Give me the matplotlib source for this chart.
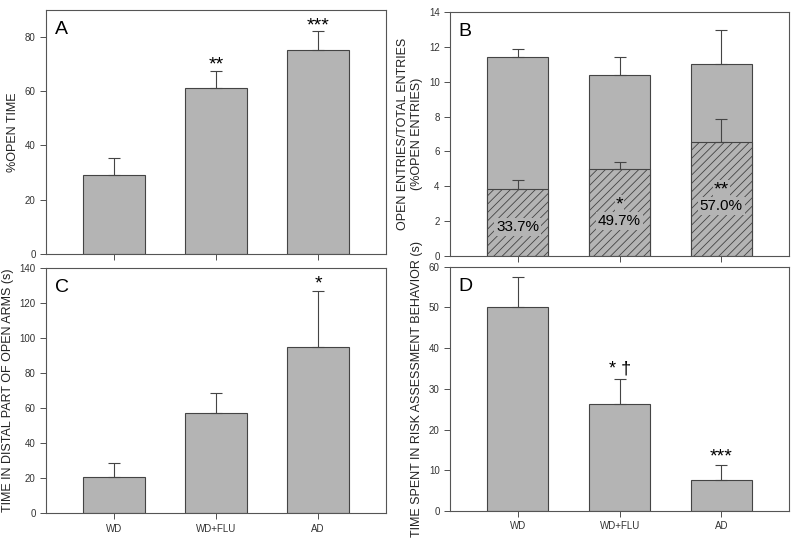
import matplotlib
matplotlib.use('Agg')
import matplotlib.pyplot as plt

plt.rcParams['font.family'] = ['Liberation Sans', 'DejaVu Sans']
plt.rcParams['hatch.color'] = '#444444'
plt.rcParams['hatch.linewidth'] = 0.6

# dados
grupos = ['WD', 'WD+FLU', 'AD']

tempo_aberto = [29, 61, 75]
tempo_aberto_err = [6.5, 6.5, 7]

entradas_total = [11.4, 10.4, 11.0]
entradas_total_err = [0.45, 1.0, 1.95]
entradas_abertas = [3.85, 5.0, 6.55]
entradas_abertas_err = [0.5, 0.4, 1.3]
pct_labels = ['33.7%', '49.7%', '57.0%']
pct_stars = ['', '*', '**']

tempo_distal = [20.5, 57, 95]
tempo_distal_err = [8, 11.5, 32]

tempo_risco = [50, 26.2, 7.6]
tempo_risco_err = [7.5, 6.3, 3.7]

cor = '#b4b4b4'
borda = '#444444'
x = range(len(grupos))

fig = plt.figure(figsize=(8, 5.39), dpi=100)
axA = fig.add_axes([0.0575, 0.529, 0.425, 0.453])
axB = fig.add_axes([0.5625, 0.525, 0.424, 0.453])
axC = fig.add_axes([0.0575, 0.048, 0.425, 0.455])
axD = fig.add_axes([0.5625, 0.052, 0.424, 0.453])


def barras(ax, vals, errs, **kw):
    ax.bar(x, vals, width=0.6, color=cor, edgecolor=borda, linewidth=0.8, **kw)
    ax.errorbar(x, vals, yerr=[[0] * len(vals), errs], fmt='none',
                ecolor=borda, elinewidth=0.8, capsize=4, capthick=0.8)


def estilo(ax, letra, ymax, passo, ylabel, rotulos):
    ax.set_xlim(-0.667, 2.667)
    ax.set_ylim(0, ymax)
    ax.set_yticks(range(0, ymax + 1, passo))
    ax.set_xticks(list(x))
    if rotulos:
        ax.set_xticklabels(grupos)
    else:
        ax.set_xticklabels([])
    ax.tick_params(labelsize=7, length=4, width=0.6, colors='#333333', direction='out')
    for s in ax.spines.values():
        s.set_color('#555555')
        s.set_linewidth(0.8)
    ax.set_ylabel(ylabel, fontsize=9, color='#222222')
    ax.text(0.025, 0.955, letra, transform=ax.transAxes, fontsize=14, va='top', ha='left')


# A
barras(axA, tempo_aberto, tempo_aberto_err)
estilo(axA, 'A', 90, 20, '%OPEN TIME', False)
axA.set_yticks([0, 20, 40, 60, 80])
axA.text(1, 69.5, '**', ha='center', va='center', fontsize=14)
axA.text(2, 84, '***', ha='center', va='center', fontsize=14)

# B
barras(axB, entradas_total, entradas_total_err)
axB.bar(x, entradas_abertas, width=0.6, color=cor, edgecolor=borda,
        linewidth=0.8, hatch='////')
axB.errorbar(x, entradas_abertas, yerr=[[0, 0, 0], entradas_abertas_err], fmt='none',
             ecolor=borda, elinewidth=0.8, capsize=4, capthick=0.8)
estilo(axB, 'B', 14, 2, 'OPEN ENTRIES/TOTAL ENTRIES\n(%OPEN ENTRIES)', False)
pos_y = [1.65, 2.0, 2.85]
for i, t in enumerate(pct_labels):
    axB.text(i, pos_y[i], t, ha='center', va='center', fontsize=11,
             bbox=dict(facecolor=cor, edgecolor='none', pad=1.5))
    if pct_stars[i]:
        axB.text(i, pos_y[i] + 0.95, pct_stars[i], ha='center', va='center', fontsize=14,
                 bbox=dict(facecolor=cor, edgecolor='none', pad=0.5))

# C
barras(axC, tempo_distal, tempo_distal_err)
estilo(axC, 'C', 140, 20, 'TIME IN DISTAL PART OF OPEN ARMS (s)', True)
axC.text(2, 131, '*', ha='center', va='center', fontsize=14)

# D
barras(axD, tempo_risco, tempo_risco_err)
estilo(axD, 'D', 60, 10, 'TIME SPENT IN RISK ASSESSMENT BEHAVIOR (s)', True)
axD.text(1, 35, '* \u2020', ha='center', va='center', fontsize=13)
axD.text(2, 13.2, '***', ha='center', va='center', fontsize=14)

fig.savefig('out.png', dpi=100)
